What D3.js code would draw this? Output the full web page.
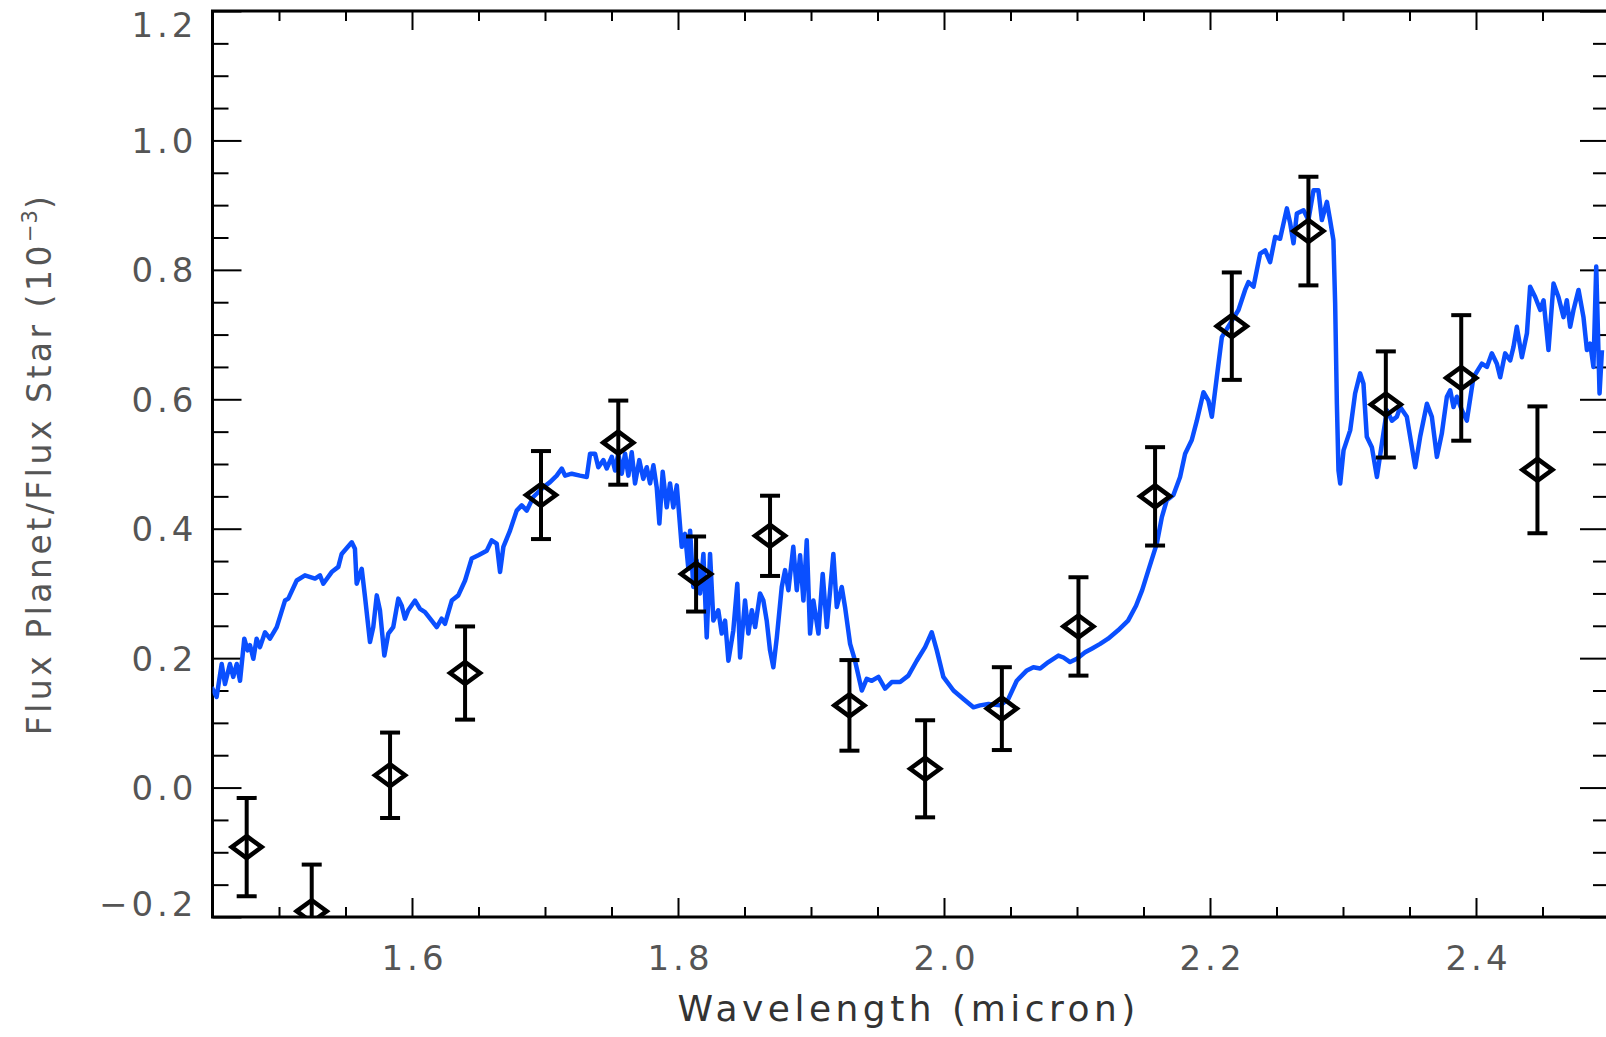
<!DOCTYPE html>
<html lang="en">
<head>
<meta charset="utf-8">
<title>Planet/Star flux ratio</title>
<script src="https://d3js.org/d3.v7.min.js"></script>
<style>
  body { margin: 0; background: #fff; }
  svg { display: block; }
  .lbl { font-family: "DejaVu Sans", sans-serif; font-size: 34px; letter-spacing: 4px; fill: #555; }
</style>
</head>
<body>
<svg id="chart" width="1606" height="1037"></svg>
<script>
// model spectrum (blue line), wavelength in micron, flux ratio in 1e-3
var modelWl = [
  1.4494,1.4531,1.4569,1.4594,1.4631,1.4656,1.4682,1.4707,1.4739,1.4764,1.4782,1.4807,1.4832,1.4857,1.4895,1.4932,
  1.4983,1.5045,1.5070,1.5133,1.5195,1.5271,1.5308,1.5333,1.5396,1.5446,1.5471,1.5547,1.5571,1.5584,1.5622,1.5647,
  1.5684,1.5709,1.5735,1.5759,1.5792,1.5822,1.5859,1.5897,1.5923,1.5947,1.5972,1.6023,1.6060,1.6098,1.6148,1.6186,
  1.6223,1.6248,1.6299,1.6348,1.6399,1.6449,1.6499,1.6562,1.6599,1.6637,1.6662,1.6687,1.6737,1.6787,1.6825,1.6863,
  1.6912,1.6987,1.7038,1.7088,1.7126,1.7151,1.7201,1.7263,1.7314,1.7339,1.7376,1.7401,1.7439,1.7464,1.7502,1.7527,
  1.7551,1.7577,1.7602,1.7627,1.7652,1.7677,1.7709,1.7739,1.7765,1.7790,1.7815,1.7840,1.7860,1.7885,1.7915,1.7940,
  1.7965,1.7991,1.8028,1.8053,1.8078,1.8091,1.8115,1.8141,1.8166,1.8191,1.8216,1.8241,1.8266,1.8303,1.8329,1.8354,
  1.8379,1.8416,1.8446,1.8467,1.8504,1.8529,1.8555,1.8580,1.8617,1.8642,1.8667,1.8692,1.8717,1.8743,1.8780,1.8805,
  1.8830,1.8867,1.8893,1.8918,1.8943,1.8968,1.8993,1.9018,1.9056,1.9088,1.9119,1.9168,1.9194,1.9231,1.9256,1.9294,
  1.9331,1.9382,1.9419,1.9457,1.9507,1.9557,1.9607,1.9670,1.9732,1.9795,1.9858,1.9908,1.9946,1.9995,2.0071,2.0146,
  2.0221,2.0271,2.0334,2.0422,2.0484,2.0547,2.0623,2.0672,2.0723,2.0785,2.0860,2.0898,2.0948,2.0999,2.1061,2.1114,
  2.1174,2.1234,2.1309,2.1384,2.1444,2.1490,2.1537,2.1600,2.1638,2.1675,2.1725,2.1775,2.1813,2.1863,2.1901,2.1951,
  2.1988,2.2014,2.2051,2.2089,2.2151,2.2214,2.2264,2.2289,2.2327,2.2377,2.2415,2.2452,2.2490,2.2527,2.2578,2.2603,
  2.2628,2.2653,2.2703,2.2740,2.2778,2.2815,2.2841,2.2879,2.2903,2.2928,2.2941,2.2954,2.2966,2.2979,2.3004,2.3054,
  2.3091,2.3129,2.3154,2.3179,2.3217,2.3255,2.3292,2.3330,2.3368,2.3405,2.3430,2.3480,2.3543,2.3580,2.3631,2.3668,
  2.3706,2.3743,2.3781,2.3806,2.3831,2.3856,2.3894,2.3931,2.3981,2.4044,2.4082,2.4119,2.4157,2.4182,2.4219,2.4257,
  2.4282,2.4307,2.4345,2.4383,2.4407,2.4445,2.4483,2.4508,2.4545,2.4583,2.4620,2.4658,2.4683,2.4708,2.4733,2.4771,
  2.4808,2.4834,2.4859,2.4883,2.4904,2.4929,2.4947
];
var modelFlux = [
  0.155,0.140,0.191,0.160,0.191,0.171,0.191,0.165,0.230,0.212,0.220,0.199,0.230,0.217,0.240,0.230,
  0.248,0.289,0.292,0.320,0.328,0.323,0.328,0.315,0.333,0.341,0.361,0.379,0.369,0.315,0.338,0.294,
  0.225,0.248,0.297,0.274,0.204,0.238,0.248,0.292,0.281,0.261,0.274,0.289,0.276,0.271,0.258,0.248,
  0.261,0.253,0.289,0.297,0.320,0.354,0.359,0.366,0.382,0.377,0.333,0.372,0.397,0.428,0.436,0.428,
  0.449,0.464,0.472,0.482,0.493,0.482,0.485,0.482,0.480,0.516,0.516,0.495,0.506,0.493,0.511,0.490,
  0.516,0.485,0.516,0.482,0.518,0.470,0.506,0.477,0.495,0.470,0.498,0.464,0.408,0.488,0.433,0.470,
  0.433,0.467,0.372,0.392,0.338,0.397,0.310,0.351,0.300,0.361,0.232,0.361,0.258,0.274,0.238,0.258,
  0.196,0.243,0.315,0.201,0.289,0.238,0.274,0.248,0.300,0.289,0.258,0.212,0.186,0.232,0.310,0.336,
  0.305,0.372,0.305,0.359,0.289,0.382,0.238,0.289,0.238,0.330,0.248,0.361,0.279,0.310,0.279,0.222,
  0.196,0.150,0.168,0.165,0.171,0.153,0.163,0.163,0.173,0.196,0.217,0.240,0.212,0.171,0.150,0.137,
  0.124,0.127,0.129,0.127,0.137,0.165,0.181,0.186,0.184,0.194,0.204,0.201,0.194,0.199,0.209,0.215,
  0.222,0.230,0.243,0.258,0.281,0.305,0.336,0.377,0.418,0.444,0.452,0.480,0.516,0.537,0.567,0.611,
  0.598,0.573,0.634,0.696,0.717,0.738,0.769,0.781,0.774,0.825,0.830,0.812,0.851,0.848,0.895,0.872,
  0.841,0.887,0.892,0.877,0.923,0.923,0.877,0.905,0.877,0.846,0.748,0.593,0.490,0.470,0.521,0.552,
  0.609,0.640,0.624,0.542,0.526,0.480,0.531,0.583,0.567,0.573,0.588,0.573,0.495,0.542,0.593,0.573,
  0.511,0.547,0.604,0.614,0.588,0.604,0.583,0.567,0.634,0.655,0.650,0.671,0.655,0.634,0.671,0.660,
  0.681,0.712,0.665,0.702,0.774,0.758,0.738,0.753,0.676,0.779,0.758,0.727,0.753,0.712,0.738,0.769,
  0.727,0.676,0.686,0.650,0.805,0.609,0.676
];

// measured points with 1-sigma errors
var obsWl   = [1.4757,1.5246,1.5835,1.6399,1.6970,1.7551,1.8136,1.8692,1.9289,1.9858,2.0435,2.1011,2.1587,2.2164,2.2740,2.3322,2.3889,2.4462];
var obsFlux = [-0.092,-0.191,0.019,0.177,0.452,0.533,0.330,0.389,0.127,0.029,0.122,0.249,0.450,0.713,0.860,0.592,0.633,0.491];
var obsErr  = [0.076,0.072,0.066,0.072,0.068,0.065,0.058,0.062,0.070,0.075,0.064,0.076,0.076,0.083,0.084,0.082,0.097,0.098];

// ticks
var xMajor = [1.6, 1.8, 2.0, 2.2, 2.4];
var xMinor = [1.5, 1.55, 1.65, 1.7, 1.75, 1.85, 1.9, 1.95, 2.05, 2.1, 2.15, 2.25, 2.3, 2.35, 2.45];
var yMajor = [-0.2, 0.0, 0.2, 0.4, 0.6, 0.8, 1.0, 1.2];
var yMinor = [-0.15, -0.1, -0.05, 0.05, 0.1, 0.15, 0.25, 0.3, 0.35, 0.45, 0.5, 0.55, 0.65, 0.7, 0.75, 0.85, 0.9, 0.95, 1.05, 1.1, 1.15];

var pL = 212.5, pR = 1609, pT = 11, pB = 917;

var svg = d3.select("#chart");

var x = d3.scaleLinear().domain([1.45, 2.5]).range([pL, pR]);
var y = d3.scaleLinear().domain([-0.2, 1.2]).range([pB, pT]);

svg.append("defs").append("clipPath").attr("id", "plotclip")
  .append("rect").attr("x", pL).attr("y", pT)
  .attr("width", pR - pL).attr("height", pB - pT);

// ---- axes (ticks point inward on all four sides)
function styleAxis(g) {
  g.select(".domain").remove();
  g.selectAll(".tick line").attr("stroke", "#000").attr("stroke-width", 2);
}

svg.append("g").attr("transform", "translate(0," + pB + ")")
  .call(d3.axisBottom(x).tickValues(xMinor).tickSizeInner(-10).tickSizeOuter(0).tickFormat(""))
  .call(styleAxis);
var xb = svg.append("g").attr("transform", "translate(0," + pB + ")")
  .call(d3.axisBottom(x).tickValues(xMajor).tickSizeInner(-19).tickSizeOuter(0).tickPadding(29).tickFormat(d3.format(".1f")))
  .call(styleAxis);
xb.selectAll(".tick text").attr("class", "lbl").attr("font-size", null).attr("font-family", null)
  .attr("fill", null).attr("dx", "2");

svg.append("g").attr("transform", "translate(0," + pT + ")")
  .call(d3.axisTop(x).tickValues(xMinor).tickSizeInner(-10).tickSizeOuter(0).tickFormat(""))
  .call(styleAxis);
svg.append("g").attr("transform", "translate(0," + pT + ")")
  .call(d3.axisTop(x).tickValues(xMajor).tickSizeInner(-19).tickSizeOuter(0).tickFormat(""))
  .call(styleAxis);

svg.append("g").attr("transform", "translate(" + pL + ",0)")
  .call(d3.axisLeft(y).tickValues(yMinor).tickSizeInner(-16).tickSizeOuter(0).tickFormat(""))
  .call(styleAxis);
var yl = svg.append("g").attr("transform", "translate(" + pL + ",0)")
  .call(d3.axisLeft(y).tickValues(yMajor).tickSizeInner(-29).tickSizeOuter(0).tickPadding(15)
    .tickFormat(function(d) { return d3.format(".1f")(d).replace("-", "\u2212"); }))
  .call(styleAxis);
yl.selectAll(".tick text").attr("class", "lbl").attr("font-size", null).attr("font-family", null)
  .attr("fill", null)
  .attr("dy", function(d) {
    // end labels are pulled inside the frame as in the original
    if (d === 1.2) return "0.76em";
    if (d === -0.2) return "-0.03em";
    return "0.35em";
  });

svg.append("g").attr("transform", "translate(" + pR + ",0)")
  .call(d3.axisRight(y).tickValues(yMinor).tickSizeInner(-16).tickSizeOuter(0).tickFormat(""))
  .call(styleAxis);
svg.append("g").attr("transform", "translate(" + pR + ",0)")
  .call(d3.axisRight(y).tickValues(yMajor).tickSizeInner(-29).tickSizeOuter(0).tickFormat(""))
  .call(styleAxis);

svg.append("rect").attr("x", pL).attr("y", pT)
  .attr("width", pR - pL).attr("height", pB - pT)
  .attr("fill", "none").attr("stroke", "#000").attr("stroke-width", 3);

// ---- model line
var plot = svg.append("g").attr("clip-path", "url(#plotclip)");

var line = d3.line()
  .x(function(d, i) { return x(modelWl[i]); })
  .y(function(d) { return y(d); });

plot.append("path").datum(modelFlux)
  .attr("d", line)
  .attr("fill", "none")
  .attr("stroke", "#0a4fff")
  .attr("stroke-width", 4.5)
  .attr("stroke-linejoin", "round");

// ---- error bars + diamonds
var pts = plot.selectAll("g.pt").data(obsWl).enter().append("g").attr("class", "pt");

pts.append("line")
  .attr("x1", function(d) { return x(d); }).attr("x2", function(d) { return x(d); })
  .attr("y1", function(d, i) { return y(obsFlux[i] + obsErr[i]); })
  .attr("y2", function(d, i) { return y(obsFlux[i] - obsErr[i]); })
  .attr("stroke", "#000").attr("stroke-width", 4);

pts.append("line")
  .attr("x1", function(d) { return x(d) - 10; }).attr("x2", function(d) { return x(d) + 10; })
  .attr("y1", function(d, i) { return y(obsFlux[i] + obsErr[i]); })
  .attr("y2", function(d, i) { return y(obsFlux[i] + obsErr[i]); })
  .attr("stroke", "#000").attr("stroke-width", 4);

pts.append("line")
  .attr("x1", function(d) { return x(d) - 10; }).attr("x2", function(d) { return x(d) + 10; })
  .attr("y1", function(d, i) { return y(obsFlux[i] - obsErr[i]); })
  .attr("y2", function(d, i) { return y(obsFlux[i] - obsErr[i]); })
  .attr("stroke", "#000").attr("stroke-width", 4);

pts.append("path")
  .attr("d", "M-15,0L0,-11L15,0L0,11Z")
  .attr("transform", function(d, i) { return "translate(" + x(d) + "," + y(obsFlux[i]) + ")"; })
  .attr("fill", "none").attr("stroke", "#000").attr("stroke-width", 4.5)
  .attr("stroke-linejoin", "miter");

// ---- titles
svg.append("text").attr("class", "lbl")
  .attr("x", (pL + pR) / 2 - 2).attr("y", 1021)
  .attr("text-anchor", "middle")
  .style("font-size", "36px").style("letter-spacing", "4.5px").style("fill", "#333")
  .text("Wavelength (micron)");

var yt = svg.append("text").attr("class", "lbl")
  .attr("transform", "translate(51," + ((pT + pB) / 2) + ") rotate(-90)")
  .attr("text-anchor", "middle")
  .style("font-size", "33px").style("letter-spacing", "3.5px");
yt.append("tspan").text("Flux Planet/Flux Star (10");
yt.append("tspan").attr("dy", -14).style("font-size", "21px").style("letter-spacing", "1px").text("\u22123");
yt.append("tspan").attr("dy", 14).text(")");
</script>
</body>
</html>
